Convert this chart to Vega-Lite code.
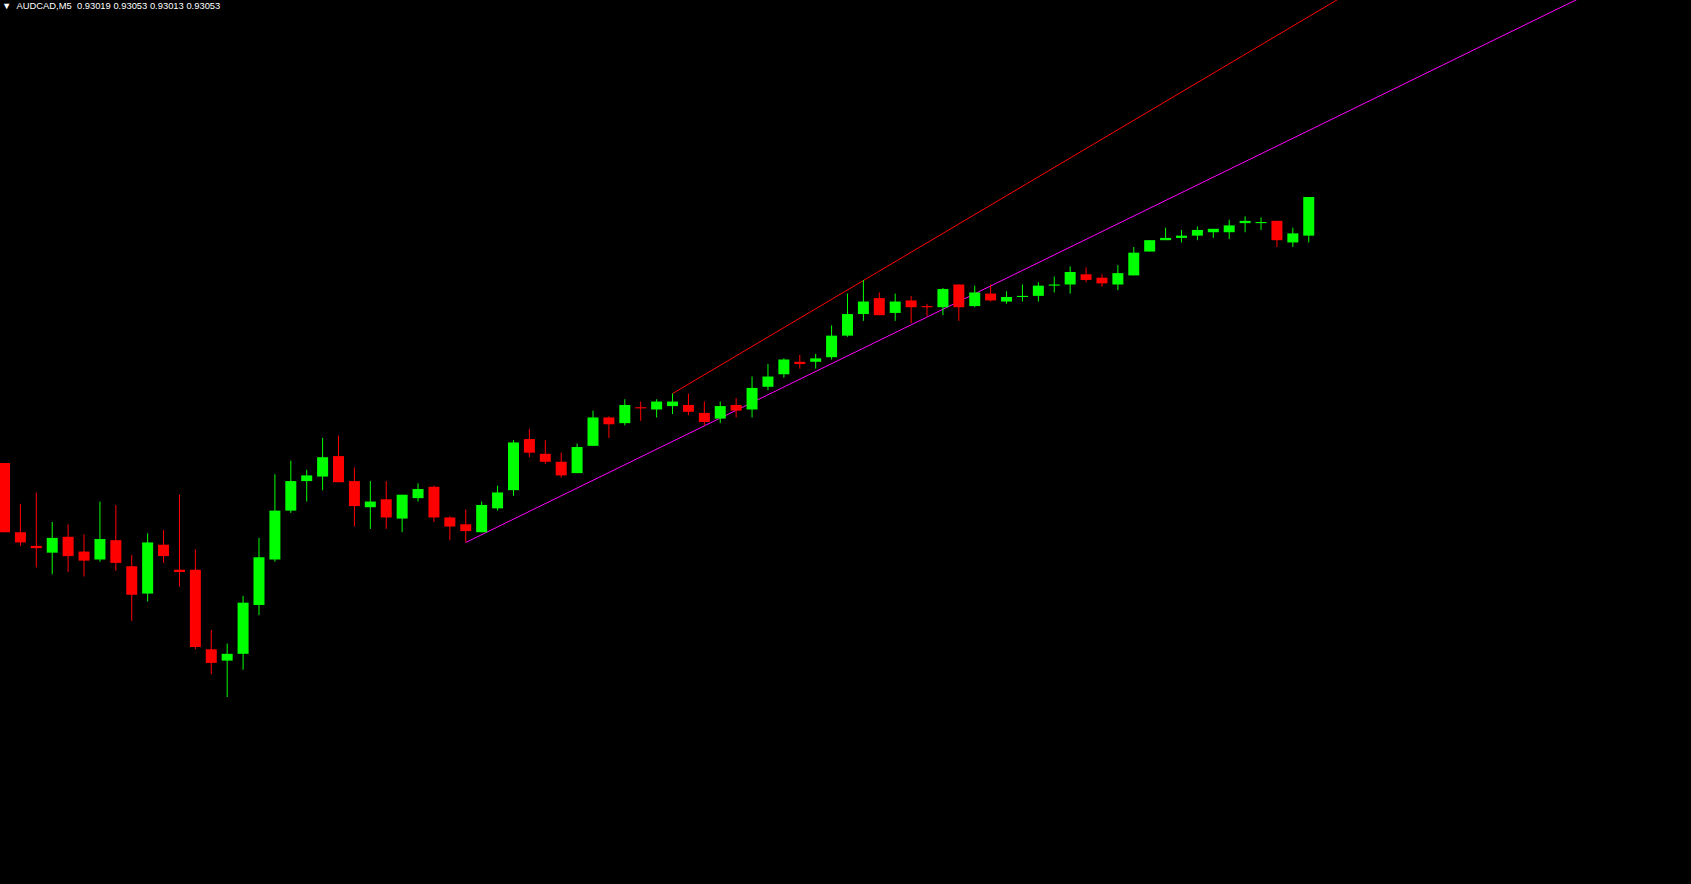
{
  "$schema": "https://vega.github.io/schema/vega-lite/v6.json",
  "width": 1691,
  "height": 884,
  "autosize": {"type": "none"},
  "padding": 0,
  "background": "#000000",
  "config": {"view": {"stroke": null}},
  "title": {
    "text": "▼\u00a0\u00a0AUDCAD,M5\u00a0\u00a00.93019\u00a00.93053\u00a00.93013\u00a00.93053",
    "anchor": "start",
    "frame": "group",
    "orient": "top",
    "offset": -9,
    "dx": 2,
    "dy": 9,
    "baseline": "alphabetic",
    "fontSize": 9.4,
    "font": "Liberation Sans",
    "fontWeight": "normal",
    "color": "#FFFFFF"
  },
  "datasets": {
    "candles": [
      {"i":0,"o":0.92819,"h":0.92819,"l":0.92758,"c":0.92758},
      {"i":1,"o":0.92758,"h":0.92783,"l":0.92746,"c":0.92749},
      {"i":2,"o":0.92746,"h":0.92793,"l":0.92727,"c":0.92744},
      {"i":3,"o":0.92740,"h":0.92767,"l":0.92721,"c":0.92753},
      {"i":4,"o":0.92754,"h":0.92765,"l":0.92723,"c":0.92737},
      {"i":5,"o":0.92741,"h":0.92756,"l":0.92719,"c":0.92733},
      {"i":6,"o":0.92734,"h":0.92785,"l":0.92732,"c":0.92752},
      {"i":7,"o":0.92751,"h":0.92782,"l":0.92724,"c":0.92731},
      {"i":8,"o":0.92728,"h":0.92738,"l":0.92680,"c":0.92703},
      {"i":9,"o":0.92704,"h":0.92757,"l":0.92697,"c":0.92749},
      {"i":10,"o":0.92747,"h":0.92760,"l":0.92731,"c":0.92737},
      {"i":11,"o":0.92725,"h":0.92791,"l":0.92710,"c":0.92723},
      {"i":12,"o":0.92725,"h":0.92743,"l":0.92655,"c":0.92657},
      {"i":13,"o":0.92655,"h":0.92672,"l":0.92633,"c":0.92643},
      {"i":14,"o":0.92645,"h":0.92660,"l":0.92613,"c":0.92651},
      {"i":15,"o":0.92651,"h":0.92702,"l":0.92637,"c":0.92696},
      {"i":16,"o":0.92694,"h":0.92753,"l":0.92685,"c":0.92736},
      {"i":17,"o":0.92734,"h":0.92809,"l":0.92732,"c":0.92777},
      {"i":18,"o":0.92777,"h":0.92821,"l":0.92775,"c":0.92803},
      {"i":19,"o":0.92803,"h":0.92813,"l":0.92785,"c":0.92808},
      {"i":20,"o":0.92807,"h":0.92841,"l":0.92795,"c":0.92824},
      {"i":21,"o":0.92825,"h":0.92843,"l":0.92802,"c":0.92802},
      {"i":22,"o":0.92803,"h":0.92815,"l":0.92763,"c":0.92781},
      {"i":23,"o":0.92780,"h":0.92803,"l":0.92761,"c":0.92785},
      {"i":24,"o":0.92787,"h":0.92803,"l":0.92761,"c":0.92771},
      {"i":25,"o":0.92770,"h":0.92791,"l":0.92758,"c":0.92791},
      {"i":26,"o":0.92788,"h":0.92801,"l":0.92785,"c":0.92796},
      {"i":27,"o":0.92798,"h":0.92799,"l":0.92767,"c":0.92771},
      {"i":28,"o":0.92771,"h":0.92772,"l":0.92751,"c":0.92763},
      {"i":29,"o":0.92765,"h":0.92778,"l":0.92749,"c":0.92759},
      {"i":30,"o":0.92758,"h":0.92785,"l":0.92758,"c":0.92782},
      {"i":31,"o":0.92779,"h":0.92799,"l":0.92777,"c":0.92793},
      {"i":32,"o":0.92795,"h":0.92839,"l":0.92790,"c":0.92837},
      {"i":33,"o":0.92840,"h":0.92849,"l":0.92824,"c":0.92828},
      {"i":34,"o":0.92827,"h":0.92839,"l":0.92818,"c":0.92820},
      {"i":35,"o":0.92820,"h":0.92828,"l":0.92806,"c":0.92808},
      {"i":36,"o":0.92810,"h":0.92836,"l":0.92810,"c":0.92833},
      {"i":37,"o":0.92834,"h":0.92865,"l":0.92834,"c":0.92859},
      {"i":38,"o":0.92859,"h":0.92860,"l":0.92841,"c":0.92853},
      {"i":39,"o":0.92854,"h":0.92875,"l":0.92852,"c":0.92870},
      {"i":40,"o":0.92868,"h":0.92873,"l":0.92856,"c":0.92867},
      {"i":41,"o":0.92866,"h":0.92875,"l":0.92859,"c":0.92873},
      {"i":42,"o":0.92869,"h":0.92880,"l":0.92862,"c":0.92873},
      {"i":43,"o":0.92870,"h":0.92880,"l":0.92861,"c":0.92864},
      {"i":44,"o":0.92863,"h":0.92873,"l":0.92852,"c":0.92855},
      {"i":45,"o":0.92858,"h":0.92873,"l":0.92854,"c":0.92869},
      {"i":46,"o":0.92870,"h":0.92876,"l":0.92859,"c":0.92865},
      {"i":47,"o":0.92866,"h":0.92895,"l":0.92859,"c":0.92885},
      {"i":48,"o":0.92886,"h":0.92906,"l":0.92883,"c":0.92895},
      {"i":49,"o":0.92897,"h":0.92911,"l":0.92894,"c":0.92910},
      {"i":50,"o":0.92908,"h":0.92914,"l":0.92902,"c":0.92906},
      {"i":51,"o":0.92908,"h":0.92915,"l":0.92902,"c":0.92911},
      {"i":52,"o":0.92912,"h":0.92940,"l":0.92910,"c":0.92931},
      {"i":53,"o":0.92931,"h":0.92968,"l":0.92930,"c":0.92950},
      {"i":54,"o":0.92950,"h":0.92980,"l":0.92944,"c":0.92961},
      {"i":55,"o":0.92964,"h":0.92969,"l":0.92949,"c":0.92949},
      {"i":56,"o":0.92951,"h":0.92968,"l":0.92944,"c":0.92961},
      {"i":57,"o":0.92962,"h":0.92966,"l":0.92942,"c":0.92956},
      {"i":58,"o":0.92957,"h":0.92959,"l":0.92948,"c":0.92956},
      {"i":59,"o":0.92956,"h":0.92973,"l":0.92949,"c":0.92972},
      {"i":60,"o":0.92976,"h":0.92976,"l":0.92944,"c":0.92956},
      {"i":61,"o":0.92957,"h":0.92975,"l":0.92956,"c":0.92969},
      {"i":62,"o":0.92968,"h":0.92976,"l":0.92961,"c":0.92962},
      {"i":63,"o":0.92961,"h":0.92970,"l":0.92959,"c":0.92965},
      {"i":64,"o":0.92965,"h":0.92976,"l":0.92961,"c":0.92966},
      {"i":65,"o":0.92966,"h":0.92978,"l":0.92961,"c":0.92975},
      {"i":66,"o":0.92975,"h":0.92983,"l":0.92969,"c":0.92976},
      {"i":67,"o":0.92976,"h":0.92992,"l":0.92968,"c":0.92987},
      {"i":68,"o":0.92985,"h":0.92991,"l":0.92978,"c":0.92980},
      {"i":69,"o":0.92982,"h":0.92985,"l":0.92974,"c":0.92977},
      {"i":70,"o":0.92976,"h":0.92993,"l":0.92971,"c":0.92986},
      {"i":71,"o":0.92984,"h":0.93009,"l":0.92984,"c":0.93004},
      {"i":72,"o":0.93005,"h":0.93015,"l":0.93005,"c":0.93015},
      {"i":73,"o":0.93015,"h":0.93026,"l":0.93015,"c":0.93017},
      {"i":74,"o":0.93017,"h":0.93024,"l":0.93013,"c":0.93019},
      {"i":75,"o":0.93019,"h":0.93027,"l":0.93015,"c":0.93024},
      {"i":76,"o":0.93022,"h":0.93025,"l":0.93017,"c":0.93025},
      {"i":77,"o":0.93022,"h":0.93033,"l":0.93016,"c":0.93028},
      {"i":78,"o":0.93030,"h":0.93036,"l":0.93022,"c":0.93032},
      {"i":79,"o":0.93030,"h":0.93035,"l":0.93024,"c":0.93031},
      {"i":80,"o":0.93032,"h":0.93032,"l":0.93009,"c":0.93015},
      {"i":81,"o":0.93013,"h":0.93026,"l":0.93009,"c":0.93021},
      {"i":82,"o":0.93019,"h":0.93053,"l":0.93013,"c":0.93053}
    ],
    "lines": [
      {"name":"support","i":29,"p":0.92749},
      {"name":"support","i":110,"p":0.93303},
      {"name":"resistance","i":42,"p":0.92880},
      {"name":"resistance","i":100,"p":0.93361}
    ]
  },
  "layer": [
    {
      "data": {"name": "lines"},
      "mark": {"type": "line", "strokeWidth": 1, "clip": true},
      "encoding": {
        "x": {"field": "i", "type": "quantitative", "scale": {"domain": [0.03125, 105.71875], "nice": false, "zero": false}, "axis": null},
        "y": {"field": "p", "type": "quantitative", "scale": {"domain": [0.9244844, 0.9322636], "nice": false, "zero": false}, "axis": null},
        "color": {"field": "name", "type": "nominal", "scale": {"domain": ["support", "resistance"], "range": ["#FF00FF", "#FF0000"]}, "legend": null}
      }
    },
    {
      "data": {"name": "candles"},
      "mark": {"type": "rule", "strokeWidth": 1},
      "encoding": {
        "x": {"field": "i", "type": "quantitative"},
        "y": {"field": "l", "type": "quantitative"},
        "y2": {"field": "h"},
        "color": {"condition": {"test": "datum.c >= datum.o", "value": "#00FF00"}, "value": "#FF0000"}
      }
    },
    {
      "data": {"name": "candles"},
      "mark": {"type": "bar", "size": 11},
      "encoding": {
        "x": {"field": "i", "type": "quantitative"},
        "y": {"field": "o", "type": "quantitative"},
        "y2": {"field": "c"},
        "color": {"condition": {"test": "datum.c >= datum.o", "value": "#00FF00"}, "value": "#FF0000"}
      }
    }
  ]
}
